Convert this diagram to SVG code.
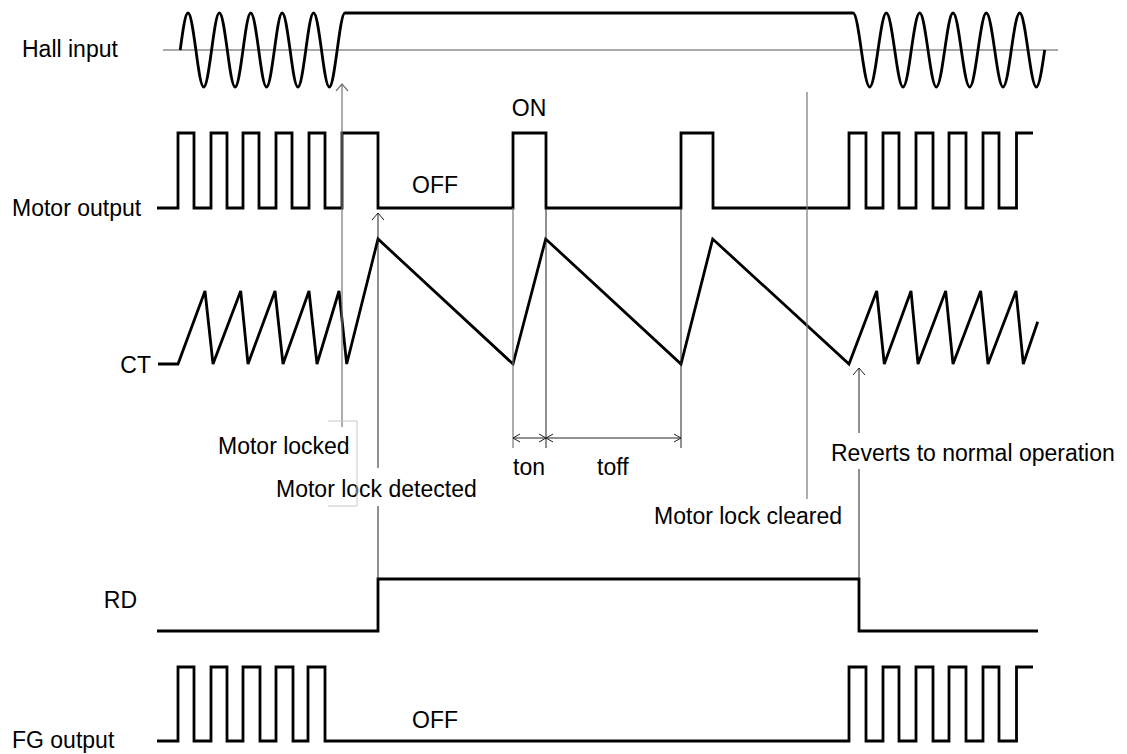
<svg xmlns="http://www.w3.org/2000/svg" width="1127" height="754" viewBox="0 0 1127 754">
<style>
.wave{fill:none;stroke:#000;stroke-width:2.8;stroke-linejoin:miter;stroke-linecap:butt}
.axis{fill:none;stroke:#555;stroke-width:1.2}
.conn{fill:none;stroke:#222;stroke-width:1}
.connG{fill:none;stroke:#777;stroke-width:1.2}
.faint{fill:none;stroke:#c8c8c8;stroke-width:1}
text{font-family:"Liberation Sans",Arial,sans-serif;font-size:23px;fill:#000}
.lbl{text-anchor:end}
</style>
<rect width="1127" height="754" fill="#fff"/>
<g id="hall-input">
<text x="22" y="57">Hall input</text>
<path class="axis" d="M163,50 H1058"/>
<path class="wave" d="M180.2,50 C182.8,30.6 185.2,13 188,13 C190.8,13 193.2,30.6 195.9,50 C198.5,69.4 200.9,87 203.7,87 C206.5,87 208.9,69.4 211.6,50 C214.2,30.6 216.6,13 219.4,13 C222.2,13 224.6,30.6 227.3,50 C229.9,69.4 232.3,87 235.1,87 C237.9,87 240.3,69.4 243,50 C245.6,30.6 248,13 250.8,13 C253.6,13 256,30.6 258.7,50 C261.3,69.4 263.7,87 266.5,87 C269.3,87 271.7,69.4 274.4,50 C277,30.6 279.4,13 282.2,13 C285,13 287.4,30.6 290.1,50 C292.7,69.4 295.1,87 297.9,87 C300.7,87 303.1,69.4 305.8,50 C308.4,30.6 310.8,13 313.6,13 C316.4,13 318.8,30.6 321.5,50 C324.1,69.4 326.5,87 329.3,87 C332.1,87 334.5,69.4 337.2,50 C339.8,30.6 342.2,13 345,13 H853 C856,13 858.6,30.6 861.3,50 C864.1,69.4 866.7,87 869.7,87 C872.7,87 875.2,69.4 878,50 C880.8,30.6 883.4,13 886.3,13 C889.3,13 891.9,30.6 894.7,50 C897.5,69.4 900,87 903,87 C906,87 908.6,69.4 911.3,50 C914.1,30.6 916.7,13 919.7,13 C922.7,13 925.2,30.6 928,50 C930.8,69.4 933.4,87 936.3,87 C939.3,87 941.9,69.4 944.7,50 C947.5,30.6 950,13 953,13 C956,13 958.6,30.6 961.3,50 C964.1,69.4 966.7,87 969.7,87 C972.7,87 975.2,69.4 978,50 C980.8,30.6 983.4,13 986.3,13 C989.3,13 991.9,30.6 994.7,50 C997.5,69.4 1000,87 1003,87 C1006,87 1008.6,69.4 1011.3,50 C1014.1,30.6 1016.7,13 1019.7,13 C1022.7,13 1025.2,30.6 1028,50 C1030.8,69.4 1033.4,87 1036.3,87 C1039.3,87 1041.9,69.4 1044.7,50"/>
</g>
<g id="motor-output">
<text x="12" y="216">Motor output</text>
<text x="529" y="116" text-anchor="middle">ON</text>
<text x="435" y="193" text-anchor="middle">OFF</text>
<path class="wave" d="M157,208 H178 V133 H194 V208 H211 V133 H227 V208 H243 V133 H259 V208 H276 V133 H292 V208 H309 V133 H325 V208 H342 V133 H378 V208 H513 V133 H546 V208 H681 V133 H713 V208 H849 V133 H866 V208 H883 V133 H899 V208 H916 V133 H933 V208 H949 V133 H966 V208 H983 V133 H999 V208 H1016.5 V133 H1033"/>
</g>
<g id="ct">
<text class="lbl" x="151" y="373">CT</text>
<path class="wave" d="M158,364 H178 L205,291 L213,364 L240.7,291 L248,364 L275,291 L283,364 L309,291 L317,364 L339,291 L346.7,364 L378,239 L513,364 L545.7,239 L681,364 L712.7,239 L849,364 L876.7,291 L884.3,364 L911,291 L918,364 L945.7,291 L953,364 L980.7,291 L988,364 L1016,291 L1023.3,364 L1037.7,321.7"/>
</g>
<g id="rd">
<text class="lbl" x="137" y="608">RD</text>
<path class="wave" d="M157,631 H378 V579 H859 V631 H1038"/>
</g>
<g id="fg-output">
<text x="12" y="748">FG output</text>
<text x="435" y="728" text-anchor="middle">OFF</text>
<path class="wave" d="M157,741 H178 V667 H194 V741 H211 V667 H227 V741 H243 V667 H260 V741 H276 V667 H293 V741 H308 V667 H325 V741 H849 V667 H866 V741 H883 V667 H899 V741 H916 V667 H933 V741 H949 V667 H966 V741 H983 V667 H999 V741 H1016.5 V667 H1033"/>
</g>
<g id="annotations">
<text x="218" y="454">Motor locked</text>
<text x="276" y="497">Motor lock detected</text>
<text x="513" y="475">ton</text>
<text x="597" y="475">toff</text>
<text x="842" y="524" text-anchor="end">Motor lock cleared</text>
<text x="831" y="461">Reverts to normal operation</text>
</g>
<g id="connectors">
<path class="connG" d="M342,84 V427 M336,91 L342,84 L348,91"/>
<path class="faint" d="M328,421 H357 V506 H328"/>
<path class="conn" d="M378,213 V468 M378,506 V579 M372,220 L378,213 L384,220"/>
<path class="conn" d="M859,368 V433 M859,469 V579 M853,375 L859,368 L865,375"/>
<path class="connG" d="M807,92 V499"/>
<path class="connG" d="M513,208 V448"/>
<path class="conn" d="M546,208 V448 M681,208 V448"/>
<path class="conn" d="M513,438 H681 M520,434 L513,438 L520,442 M539,434 L546,438 L539,442 M553,434 L546,438 L553,442 M674,434 L681,438 L674,442"/>
</g>
</svg>
